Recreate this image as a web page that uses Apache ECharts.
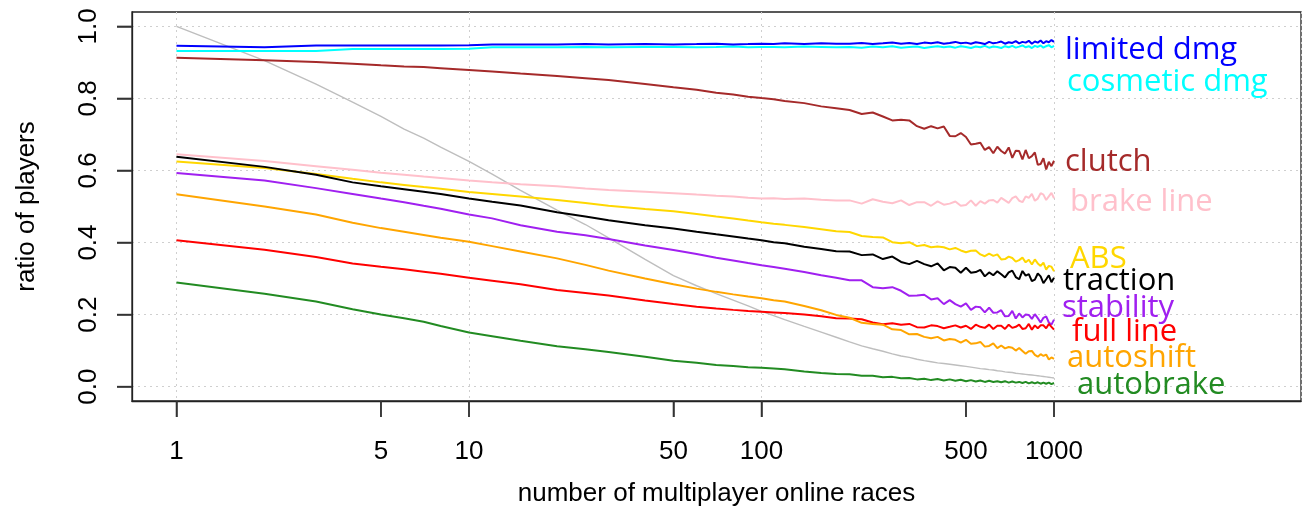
<!DOCTYPE html>
<html>
<head>
<meta charset="utf-8">
<script src="https://cdn.jsdelivr.net/npm/echarts@6/dist/echarts.min.js"></script>
<style>html,body{margin:0;padding:0;background:#fff;}#c{width:1302px;height:512px;}</style>
</head>
<body>
<div id="c"></div>
<script>
// number of multiplayer online races (x positions of all series)
const X = [1,2,3,4,5,6,7,8,10,12,15,20,25,30,40,50,60,70,80,90,100,110,120,140,160,180,
  200,220,240,260,280,300,320,340,360,380,400,420,440,460,480,500,520,540,560,580,600,620,640,660,680,
  700,720,740,760,780,800,820,840,860,880,900,920,940,960,980,1000];

const xTicks = [1,5,10,50,100,500,1000];
const yTicks = [0,0.2,0.4,0.6,0.8,1.0];

const allPlayers = [1.0,0.905,0.84,0.79,0.75,0.715,0.69,0.665,0.625,0.59,0.545,0.49,0.45,0.413,0.353,0.308,0.28,0.258,0.24,0.224,0.209,0.197,0.186,0.167,0.151,0.137,
  0.124,0.113,0.105,0.098,0.091,0.085,0.081,0.076,0.072,0.069,0.066,0.064,0.062,0.060,0.058,0.056,0.054,0.052,0.050,0.049,
  0.047,0.046,0.044,0.043,0.041,0.040,0.039,0.037,0.036,0.035,0.034,0.033,0.032,0.031,0.030,0.029,0.028,0.027,0.026,0.025,0.024];

const limitedDmg = [0.946,0.942,0.947,0.947,0.947,0.947,0.947,0.947,0.948,0.950,0.950,0.950,0.951,0.950,0.951,0.950,0.951,0.952,0.950,0.951,0.952,0.951,0.953,0.951,0.953,0.952,
  0.952,0.954,0.951,0.953,0.955,0.952,0.954,0.951,0.955,0.953,0.956,0.952,0.954,0.957,0.953,0.955,0.952,0.956,0.954,0.951,
  0.957,0.953,0.955,0.958,0.952,0.956,0.954,0.959,0.953,0.957,0.955,0.960,0.952,0.958,0.955,0.961,0.953,0.959,0.956,0.962,0.957];

const cosmeticDmg = [0.932,0.932,0.932,0.937,0.937,0.937,0.937,0.937,0.938,0.942,0.942,0.942,0.943,0.942,0.943,0.943,0.942,0.943,0.944,0.942,0.943,0.943,0.942,0.944,0.943,0.942,
  0.943,0.941,0.944,0.942,0.945,0.941,0.943,0.944,0.940,0.943,0.945,0.942,0.944,0.941,0.945,0.943,0.940,0.944,0.942,0.946,
  0.941,0.944,0.943,0.940,0.945,0.942,0.946,0.941,0.944,0.947,0.942,0.945,0.940,0.946,0.943,0.947,0.941,0.945,0.948,0.942,0.946];

const clutch = [0.913,0.906,0.901,0.896,0.892,0.889,0.887,0.884,0.879,0.875,0.869,0.862,0.856,0.851,0.840,0.831,0.824,0.816,0.811,0.805,0.801,0.798,0.793,0.787,0.778,0.773,
  0.768,0.757,0.761,0.750,0.739,0.741,0.739,0.723,0.716,0.723,0.717,0.722,0.696,0.695,0.704,0.693,0.672,0.674,0.677,0.657,
  0.665,0.648,0.666,0.654,0.647,0.664,0.635,0.655,0.654,0.631,0.657,0.634,0.640,0.650,0.616,0.618,0.634,0.603,0.624,0.612,0.627];

const brakeLine = [0.645,0.626,0.612,0.602,0.594,0.588,0.583,0.579,0.572,0.567,0.562,0.556,0.550,0.546,0.541,0.537,0.533,0.530,0.528,0.524,0.522,0.523,0.521,0.522,0.519,0.517,
  0.517,0.508,0.520,0.513,0.509,0.517,0.504,0.512,0.512,0.502,0.514,0.505,0.508,0.514,0.502,0.504,0.517,0.502,0.515,0.508,
  0.517,0.518,0.511,0.524,0.517,0.510,0.523,0.528,0.516,0.512,0.528,0.524,0.535,0.516,0.522,0.537,0.533,0.518,0.528,0.538,0.523];

const abs = [0.625,0.607,0.590,0.577,0.567,0.560,0.554,0.549,0.540,0.535,0.528,0.518,0.510,0.502,0.493,0.487,0.479,0.472,0.467,0.461,0.456,0.452,0.449,0.443,0.437,0.431,
  0.429,0.418,0.415,0.414,0.401,0.398,0.401,0.390,0.393,0.387,0.389,0.387,0.381,0.385,0.378,0.373,0.377,0.378,0.367,0.362,
  0.369,0.363,0.367,0.353,0.354,0.361,0.357,0.347,0.351,0.358,0.345,0.352,0.339,0.353,0.342,0.335,0.344,0.325,0.335,0.333,0.320];

const traction = [0.638,0.610,0.588,0.567,0.556,0.548,0.541,0.535,0.522,0.513,0.503,0.484,0.472,0.462,0.448,0.439,0.430,0.423,0.417,0.411,0.406,0.401,0.398,0.388,0.382,0.376,
  0.375,0.365,0.367,0.354,0.361,0.346,0.340,0.349,0.340,0.334,0.342,0.323,0.332,0.330,0.316,0.330,0.316,0.318,0.324,0.306,
  0.317,0.309,0.320,0.312,0.303,0.317,0.322,0.304,0.298,0.321,0.308,0.312,0.293,0.297,0.314,0.306,0.287,0.298,0.309,0.290,0.302];

const stability = [0.593,0.572,0.551,0.535,0.522,0.512,0.502,0.494,0.478,0.467,0.448,0.430,0.420,0.410,0.392,0.379,0.368,0.358,0.350,0.343,0.337,0.332,0.327,0.318,0.309,0.302,
  0.295,0.295,0.276,0.273,0.276,0.266,0.252,0.253,0.255,0.242,0.245,0.229,0.240,0.229,0.222,0.231,0.213,0.222,0.220,0.206,
  0.219,0.205,0.206,0.212,0.195,0.196,0.210,0.189,0.203,0.192,0.200,0.199,0.188,0.201,0.190,0.178,0.191,0.195,0.178,0.172,0.186];

const fullLine = [0.406,0.380,0.360,0.342,0.333,0.326,0.319,0.313,0.302,0.294,0.284,0.268,0.260,0.253,0.239,0.229,0.222,0.217,0.213,0.210,0.208,0.206,0.204,0.200,0.195,0.190,
  0.189,0.187,0.178,0.173,0.176,0.172,0.174,0.165,0.164,0.170,0.168,0.162,0.166,0.170,0.164,0.169,0.160,0.172,0.166,0.163,
  0.172,0.160,0.169,0.169,0.160,0.172,0.163,0.166,0.172,0.160,0.162,0.174,0.158,0.170,0.162,0.170,0.170,0.162,0.174,0.166,0.158];

const autoshift = [0.534,0.500,0.478,0.455,0.440,0.430,0.421,0.413,0.402,0.390,0.375,0.356,0.338,0.322,0.300,0.284,0.272,0.263,0.256,0.250,0.245,0.240,0.236,0.224,0.212,0.199,
  0.191,0.177,0.174,0.172,0.159,0.157,0.145,0.146,0.138,0.134,0.138,0.128,0.132,0.130,0.122,0.130,0.119,0.120,0.124,0.111,
  0.113,0.120,0.107,0.114,0.106,0.110,0.108,0.100,0.107,0.099,0.091,0.098,0.099,0.088,0.083,0.090,0.085,0.089,0.075,0.081,0.077];

const autobrake = [0.289,0.258,0.236,0.215,0.200,0.190,0.180,0.168,0.150,0.140,0.127,0.112,0.104,0.096,0.083,0.072,0.066,0.060,0.057,0.054,0.052,0.050,0.048,0.042,0.038,0.035,
  0.034,0.030,0.030,0.026,0.027,0.023,0.024,0.020,0.022,0.018,0.021,0.017,0.020,0.016,0.019,0.015,0.018,0.014,0.017,0.013,
  0.016,0.013,0.015,0.012,0.015,0.011,0.014,0.011,0.013,0.010,0.013,0.009,0.012,0.009,0.012,0.008,0.011,0.008,0.011,0.007,0.010];

// series: name, values, colour
const seriesNames = ['all players','cosmetic dmg','limited dmg','clutch','brake line','ABS','traction','stability','full line','autoshift','autobrake'];
const seriesValues = [allPlayers,cosmeticDmg,limitedDmg,clutch,brakeLine,abs,traction,stability,fullLine,autoshift,autobrake];
const seriesColors = ['#bebebe','#00ffff','#0000ff','#a52a2a','#ffc0cb','#ffd700','#000000','#a020f0','#ff0000','#ffa500','#228b22'];
// label anchor heights (data units) at x = 1000
const labelY = [null,0.845,0.935,0.622,0.511,0.354,0.292,0.218,0.152,0.080,0.003];
const labelShift = [0,13,11,11,16,16,9,8,18,13,23];

const chart = echarts.init(document.getElementById('c'), null, {renderer:'canvas'});
const FONT = 'Liberation Sans, Arial, sans-serif';
const LABFONT = 'Open Sans, sans-serif';

const series = seriesNames.map((n, k) => {
  const s = {
    name: n, type: 'line', showSymbol: false, symbol: 'none', animation: false,
    data: X.map((x, i) => [x, seriesValues[k][i]]),
    lineStyle: {color: seriesColors[k], width: k === 0 ? 1.4 : 2},
    itemStyle: {color: seriesColors[k]},
    z: k === 0 ? 1 : 2
  };
  if (labelY[k] !== null) {
    s.markPoint = {
      symbol: 'circle', symbolSize: 0, animation: false, silent: true,
      data: [{coord: [1000, labelY[k]], value: n}],
      label: {show: true, position: 'right', distance: labelShift[k], formatter: n,
        color: seriesColors[k], fontSize: 31, fontFamily: LABFONT}
    };
  }
  return s;
});

const xMin = 0.7046, xMax = 6988, yMin = -0.04, yMax = 1.04;
chart.setOption({
  animation: false,
  backgroundColor: '#fff',
  grid: {left: 132, right: 1, top: 12, height: 391, show: true, borderColor: '#222', borderWidth: 1.3},
  xAxis: [{
    type: 'log', logBase: 10, min: xMin, max: xMax, position: 'bottom',
    axisLine: {show: true, onZero: false, lineStyle: {color: '#222', width: 1.3}},
    axisTick: {show: true, customValues: xTicks, length: 16, lineStyle: {color: '#333', width: 1.5}},
    axisLabel: {customValues: xTicks, color: '#000', fontSize: 26, fontFamily: FONT, margin: 38, formatter: v => String(Math.round(v))},
    splitLine: {show: false},
    name: 'number of multiplayer online races', nameLocation: 'middle', nameGap: 80,
    nameTextStyle: {color: '#000', fontSize: 26, fontFamily: FONT}
  }, {
    type: 'log', logBase: 10, min: xMin, max: xMax, position: 'top',
    axisLine: {show: false, onZero: false}, axisTick: {show: false}, axisLabel: {show: false},
    splitLine: {show: true, lineStyle: {color: '#cfcfcf', type: [2, 4], width: 1}}
  }],
  yAxis: [{
    type: 'value', min: yMin, max: yMax, position: 'left',
    axisLine: {show: true, onZero: false, lineStyle: {color: '#222', width: 1.3}},
    axisTick: {show: true, customValues: yTicks, length: 15, lineStyle: {color: '#333', width: 1.5}},
    axisLabel: {customValues: yTicks, rotate: 90, color: '#000', fontSize: 26, fontFamily: FONT, margin: 30, formatter: v => v.toFixed(1)},
    splitLine: {show: true, lineStyle: {color: '#cfcfcf', type: [2, 4], width: 1}},
    name: 'ratio of players', nameLocation: 'middle', nameGap: 92, nameRotate: 90,
    nameTextStyle: {color: '#000', fontSize: 26, fontFamily: FONT}
  }],
  series: series
});

// outward tick marks, placed through the chart's own axis scales
const bottomPx = chart.convertToPixel({yAxisIndex: 0}, yMin);
const leftPx = chart.convertToPixel({xAxisIndex: 0}, xMin);
const tickStyle = {stroke: '#333', lineWidth: 1.5};
const tickGraphics = [];
xTicks.forEach(v => {
  const px = chart.convertToPixel({xAxisIndex: 0}, v);
  tickGraphics.push({type: 'line', silent: true, z: 100,
    shape: {x1: px, y1: bottomPx, x2: px, y2: bottomPx + 16}, style: tickStyle});
});
yTicks.forEach(v => {
  const py = chart.convertToPixel({yAxisIndex: 0}, v);
  tickGraphics.push({type: 'line', silent: true, z: 100,
    shape: {x1: leftPx - 15, y1: py, x2: leftPx, y2: py}, style: tickStyle});
});
chart.setOption({graphic: tickGraphics});
</script>
</body>
</html>
